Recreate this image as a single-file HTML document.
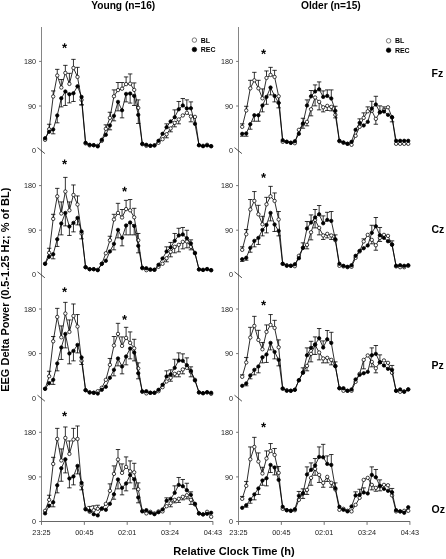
<!DOCTYPE html>
<html lang="en"><head><meta charset="utf-8"><title>EEG Delta Power</title><style>html,body{margin:0;padding:0;background:#fff}body{width:446px;height:559px;overflow:hidden}</style></head><body>
<svg width="446" height="559" viewBox="0 0 446 559" style="display:block">
<rect width="446" height="559" fill="#fff"/>
<g stroke="#757575" stroke-width="1" fill="none">
<path d="M41.5 27V522" stroke="#858585"/>
<path d="M41 521.5H213.1" stroke="#666"/>
<path d="M39.1 106H41.5M39.1 61.4H41.5M39.1 230.2H41.5M39.1 185.6H41.5M39.1 353.6H41.5M39.1 309H41.5M39.1 476.9H41.5M39.1 432.3H41.5M39.1 521.5H41.5M41.5 521.5V524.9M84.35 521.5V524.9M127.2 521.5V524.9M170.05 521.5V524.9M212.9 521.5V524.9"/>
</g>
<g stroke="#222" stroke-width="0.8">
<path d="M37.5 147.6L44.9 153.6"/>
<path d="M37.5 271.8L44.9 277.8"/>
<path d="M37.5 395.2L44.9 401.2"/>
</g>
<g stroke="#757575" stroke-width="1" fill="none">
<path d="M238.5 27V522" stroke="#858585"/>
<path d="M238 521.5H410.1" stroke="#666"/>
<path d="M236.1 106H238.5M236.1 61.4H238.5M236.1 230.2H238.5M236.1 185.6H238.5M236.1 353.6H238.5M236.1 309H238.5M236.1 476.9H238.5M236.1 432.3H238.5M236.1 521.5H238.5M238.5 521.5V524.9M281.35 521.5V524.9M324.2 521.5V524.9M367.05 521.5V524.9M409.9 521.5V524.9"/>
</g>
<g stroke="#222" stroke-width="0.8">
<path d="M234.5 147.6L241.9 153.6"/>
<path d="M234.5 271.8L241.9 277.8"/>
<path d="M234.5 395.2L241.9 401.2"/>
</g>
<polyline points="45.1,139.8 49.15,129.23 53.2,96.49 57.25,75.53 61.3,87.51 65.35,72.94 69.4,83.92 73.45,67.95 77.5,76.93 81.55,99.88 85.6,143.4 89.65,145.39 93.7,145.19 97.75,145.79 101.8,140.8 105.85,128.83 109.9,117.85 113.95,96.29 118,90.1 122.05,88.71 126.1,84.12 130.15,83.72 134.2,89.9 138.25,107.87 142.3,144.2 146.35,145.79 150.4,145.79 154.45,145.39 158.5,142.8 162.55,139.21 166.6,134.22 170.65,128.43 174.7,122.84 178.75,119.45 182.8,115.45 186.85,112.86 190.9,116.45 194.95,116.85 199,145.19 203.05,145.79 207.1,144.79 211.15,146.19" fill="none" stroke="#000" stroke-width="0.82" stroke-linejoin="round"/>
<path d="M49.15 129.23V124.24M46.95 124.24H51.35M53.2 96.49V90.9M51 90.9H55.4M57.25 75.53V69.35M55.05 69.35H59.45M61.3 87.51V79.52M59.1 79.52H63.5M65.35 72.94V65.35M63.15 65.35H67.55M69.4 83.92V73.34M67.2 73.34H71.6M73.45 67.95V59.37M71.25 59.37H75.65M77.5 76.93V67.35M75.3 67.35H79.7M81.55 99.88V104.87M79.35 104.87H83.75M105.85 128.83V124.83M103.65 124.83H108.05M109.9 117.85V112.26M107.7 112.26H112.1M113.95 96.29V89.9M111.75 89.9H116.15M118 90.1V82.52M115.8 82.52H120.2M122.05 88.71V82.52M119.85 82.52H124.25M126.1 84.12V76.93M123.9 76.93H128.3M130.15 83.72V73.94M127.95 73.94H132.35M134.2 89.9V82.92M132 82.92H136.4M138.25 107.87V99.88M136.05 99.88H140.45M166.6 134.22V137.81M164.4 137.81H168.8M170.65 128.43V131.82M168.45 131.82H172.85M174.7 122.84V126.83M172.5 126.83H176.9M178.75 119.45V123.84M176.55 123.84H180.95M190.9 116.45V121.84M188.7 121.84H193.1" stroke="#000" stroke-width="0.8" fill="none"/>
<g fill="#fff" stroke="#000" stroke-width="0.75">
<circle cx="45.1" cy="139.8" r="1.7"/>
<circle cx="49.15" cy="129.23" r="1.7"/>
<circle cx="53.2" cy="96.49" r="1.7"/>
<circle cx="57.25" cy="75.53" r="1.7"/>
<circle cx="61.3" cy="87.51" r="1.7"/>
<circle cx="65.35" cy="72.94" r="1.7"/>
<circle cx="69.4" cy="83.92" r="1.7"/>
<circle cx="73.45" cy="67.95" r="1.7"/>
<circle cx="77.5" cy="76.93" r="1.7"/>
<circle cx="81.55" cy="99.88" r="1.7"/>
<circle cx="85.6" cy="143.4" r="1.7"/>
<circle cx="89.65" cy="145.39" r="1.7"/>
<circle cx="93.7" cy="145.19" r="1.7"/>
<circle cx="97.75" cy="145.79" r="1.7"/>
<circle cx="101.8" cy="140.8" r="1.7"/>
<circle cx="105.85" cy="128.83" r="1.7"/>
<circle cx="109.9" cy="117.85" r="1.7"/>
<circle cx="113.95" cy="96.29" r="1.7"/>
<circle cx="118" cy="90.1" r="1.7"/>
<circle cx="122.05" cy="88.71" r="1.7"/>
<circle cx="126.1" cy="84.12" r="1.7"/>
<circle cx="130.15" cy="83.72" r="1.7"/>
<circle cx="134.2" cy="89.9" r="1.7"/>
<circle cx="138.25" cy="107.87" r="1.7"/>
<circle cx="142.3" cy="144.2" r="1.7"/>
<circle cx="146.35" cy="145.79" r="1.7"/>
<circle cx="150.4" cy="145.79" r="1.7"/>
<circle cx="154.45" cy="145.39" r="1.7"/>
<circle cx="158.5" cy="142.8" r="1.7"/>
<circle cx="162.55" cy="139.21" r="1.7"/>
<circle cx="166.6" cy="134.22" r="1.7"/>
<circle cx="170.65" cy="128.43" r="1.7"/>
<circle cx="174.7" cy="122.84" r="1.7"/>
<circle cx="178.75" cy="119.45" r="1.7"/>
<circle cx="182.8" cy="115.45" r="1.7"/>
<circle cx="186.85" cy="112.86" r="1.7"/>
<circle cx="190.9" cy="116.45" r="1.7"/>
<circle cx="194.95" cy="116.85" r="1.7"/>
<circle cx="199" cy="145.19" r="1.7"/>
<circle cx="203.05" cy="145.79" r="1.7"/>
<circle cx="207.1" cy="144.79" r="1.7"/>
<circle cx="211.15" cy="146.19" r="1.7"/>
</g>
<polyline points="45.1,138.21 49.15,131.82 53.2,129.43 57.25,115.45 61.3,98.29 65.35,91.5 69.4,94.3 73.45,93.3 77.5,86.31 81.55,96.89 85.6,142.8 89.65,144.79 93.7,145.19 97.75,146.39 101.8,139.8 105.85,134.81 109.9,125.43 113.95,115.85 118,101.88 122.05,110.26 126.1,93.9 130.15,93.5 134.2,95.89 138.25,114.85 142.3,143.8 146.35,144.79 150.4,145.79 154.45,145.39 158.5,140.8 162.55,133.82 166.6,127.23 170.65,121.44 174.7,117.25 178.75,109.27 182.8,105.47 186.85,108.47 190.9,108.27 194.95,123.84 199,145.19 203.05,146.19 207.1,145.39 211.15,146.19" fill="none" stroke="#000" stroke-width="0.82" stroke-linejoin="round"/>
<path d="M53.2 129.43V133.82M51 133.82H55.4M57.25 115.45V122.84M55.05 122.84H59.45M61.3 98.29V106.87M59.1 106.87H63.5M65.35 91.5V105.47M63.15 105.47H67.55M69.4 94.3V102.88M67.2 102.88H71.6M73.45 93.3V101.48M71.25 101.48H75.65M81.55 96.89V104.87M79.35 104.87H83.75M109.9 125.43V129.82M107.7 129.82H112.1M113.95 115.85V120.84M111.75 120.84H116.15M118 101.88V110.86M115.8 110.86H120.2M122.05 110.26V117.85M119.85 117.85H124.25M126.1 93.9V101.88M123.9 101.88H128.3M130.15 93.5V103.08M127.95 103.08H132.35M134.2 95.89V105.47M132 105.47H136.4M138.25 114.85V123.44M136.05 123.44H140.45M166.6 127.23V123.84M164.4 123.84H168.8M174.7 117.25V109.86M172.5 109.86H176.9M178.75 109.27V101.48M176.55 101.48H180.95M182.8 105.47V98.49M180.6 98.49H185M186.85 108.47V99.88M184.65 99.88H189.05M190.9 108.27V101.88M188.7 101.88H193.1" stroke="#000" stroke-width="0.8" fill="none"/>
<g fill="#000" stroke="#000" stroke-width="0.75">
<circle cx="45.1" cy="138.21" r="1.7"/>
<circle cx="49.15" cy="131.82" r="1.7"/>
<circle cx="53.2" cy="129.43" r="1.7"/>
<circle cx="57.25" cy="115.45" r="1.7"/>
<circle cx="61.3" cy="98.29" r="1.7"/>
<circle cx="65.35" cy="91.5" r="1.7"/>
<circle cx="69.4" cy="94.3" r="1.7"/>
<circle cx="73.45" cy="93.3" r="1.7"/>
<circle cx="77.5" cy="86.31" r="1.7"/>
<circle cx="81.55" cy="96.89" r="1.7"/>
<circle cx="85.6" cy="142.8" r="1.7"/>
<circle cx="89.65" cy="144.79" r="1.7"/>
<circle cx="93.7" cy="145.19" r="1.7"/>
<circle cx="97.75" cy="146.39" r="1.7"/>
<circle cx="101.8" cy="139.8" r="1.7"/>
<circle cx="105.85" cy="134.81" r="1.7"/>
<circle cx="109.9" cy="125.43" r="1.7"/>
<circle cx="113.95" cy="115.85" r="1.7"/>
<circle cx="118" cy="101.88" r="1.7"/>
<circle cx="122.05" cy="110.26" r="1.7"/>
<circle cx="126.1" cy="93.9" r="1.7"/>
<circle cx="130.15" cy="93.5" r="1.7"/>
<circle cx="134.2" cy="95.89" r="1.7"/>
<circle cx="138.25" cy="114.85" r="1.7"/>
<circle cx="142.3" cy="143.8" r="1.7"/>
<circle cx="146.35" cy="144.79" r="1.7"/>
<circle cx="150.4" cy="145.79" r="1.7"/>
<circle cx="154.45" cy="145.39" r="1.7"/>
<circle cx="158.5" cy="140.8" r="1.7"/>
<circle cx="162.55" cy="133.82" r="1.7"/>
<circle cx="166.6" cy="127.23" r="1.7"/>
<circle cx="170.65" cy="121.44" r="1.7"/>
<circle cx="174.7" cy="117.25" r="1.7"/>
<circle cx="178.75" cy="109.27" r="1.7"/>
<circle cx="182.8" cy="105.47" r="1.7"/>
<circle cx="186.85" cy="108.47" r="1.7"/>
<circle cx="190.9" cy="108.27" r="1.7"/>
<circle cx="194.95" cy="123.84" r="1.7"/>
<circle cx="199" cy="145.19" r="1.7"/>
<circle cx="203.05" cy="146.19" r="1.7"/>
<circle cx="207.1" cy="145.39" r="1.7"/>
<circle cx="211.15" cy="146.19" r="1.7"/>
</g>
<polyline points="45.1,263.8 49.15,252.83 53.2,218.89 57.25,196.34 61.3,213.5 65.35,191.55 69.4,210.31 73.45,194.94 77.5,204.52 81.55,233.47 85.6,267.2 89.65,269.19 93.7,269.19 97.75,269.79 101.8,263.8 105.85,253.23 109.9,240.25 113.95,219.49 118,212.91 122.05,217.5 126.1,209.11 130.15,210.31 134.2,217.3 138.25,240.25 142.3,268.2 146.35,270.19 150.4,269.79 154.45,269.79 158.5,266.8 162.55,263.8 166.6,258.22 170.65,251.83 174.7,246.84 178.75,244.84 182.8,241.85 186.85,241.45 190.9,246.84 194.95,252.83 199,269.39 203.05,269.79 207.1,268.99 211.15,270.19" fill="none" stroke="#000" stroke-width="0.82" stroke-linejoin="round"/>
<path d="M49.15 252.83V248.24M46.95 248.24H51.35M53.2 218.89V214.3M51 214.3H55.4M57.25 196.34V188.36M55.05 188.36H59.45M61.3 213.5V201.93M59.1 201.93H63.5M65.35 191.55V177.38M63.15 177.38H67.55M69.4 210.31V201.93M67.2 201.93H71.6M73.45 194.94V184.96M71.25 184.96H75.65M77.5 204.52V195.94M75.3 195.94H79.7M81.55 233.47V238.85M79.35 238.85H83.75M109.9 240.25V236.26M107.7 236.26H112.1M113.95 219.49V214.3M111.75 214.3H116.15M118 212.91V203.33M115.8 203.33H120.2M122.05 217.5V209.51M119.85 209.51H124.25M126.1 209.11V200.33M123.9 200.33H128.3M130.15 210.31V199.53M127.95 199.53H132.35M134.2 217.3V208.32M132 208.32H136.4M138.25 240.25V233.47M136.05 233.47H140.45M166.6 258.22V261.81M164.4 261.81H168.8M170.65 251.83V256.82M168.45 256.82H172.85M174.7 246.84V252.83M172.5 252.83H176.9M178.75 244.84V251.83M176.55 251.83H180.95M182.8 241.85V248.83M180.6 248.83H185M186.85 241.45V247.84M184.65 247.84H189.05M190.9 246.84V249.83M188.7 249.83H193.1" stroke="#000" stroke-width="0.8" fill="none"/>
<g fill="#fff" stroke="#000" stroke-width="0.75">
<circle cx="45.1" cy="263.8" r="1.7"/>
<circle cx="49.15" cy="252.83" r="1.7"/>
<circle cx="53.2" cy="218.89" r="1.7"/>
<circle cx="57.25" cy="196.34" r="1.7"/>
<circle cx="61.3" cy="213.5" r="1.7"/>
<circle cx="65.35" cy="191.55" r="1.7"/>
<circle cx="69.4" cy="210.31" r="1.7"/>
<circle cx="73.45" cy="194.94" r="1.7"/>
<circle cx="77.5" cy="204.52" r="1.7"/>
<circle cx="81.55" cy="233.47" r="1.7"/>
<circle cx="85.6" cy="267.2" r="1.7"/>
<circle cx="89.65" cy="269.19" r="1.7"/>
<circle cx="93.7" cy="269.19" r="1.7"/>
<circle cx="97.75" cy="269.79" r="1.7"/>
<circle cx="101.8" cy="263.8" r="1.7"/>
<circle cx="105.85" cy="253.23" r="1.7"/>
<circle cx="109.9" cy="240.25" r="1.7"/>
<circle cx="113.95" cy="219.49" r="1.7"/>
<circle cx="118" cy="212.91" r="1.7"/>
<circle cx="122.05" cy="217.5" r="1.7"/>
<circle cx="126.1" cy="209.11" r="1.7"/>
<circle cx="130.15" cy="210.31" r="1.7"/>
<circle cx="134.2" cy="217.3" r="1.7"/>
<circle cx="138.25" cy="240.25" r="1.7"/>
<circle cx="142.3" cy="268.2" r="1.7"/>
<circle cx="146.35" cy="270.19" r="1.7"/>
<circle cx="150.4" cy="269.79" r="1.7"/>
<circle cx="154.45" cy="269.79" r="1.7"/>
<circle cx="158.5" cy="266.8" r="1.7"/>
<circle cx="162.55" cy="263.8" r="1.7"/>
<circle cx="166.6" cy="258.22" r="1.7"/>
<circle cx="170.65" cy="251.83" r="1.7"/>
<circle cx="174.7" cy="246.84" r="1.7"/>
<circle cx="178.75" cy="244.84" r="1.7"/>
<circle cx="182.8" cy="241.85" r="1.7"/>
<circle cx="186.85" cy="241.45" r="1.7"/>
<circle cx="190.9" cy="246.84" r="1.7"/>
<circle cx="194.95" cy="252.83" r="1.7"/>
<circle cx="199" cy="269.39" r="1.7"/>
<circle cx="203.05" cy="269.79" r="1.7"/>
<circle cx="207.1" cy="268.99" r="1.7"/>
<circle cx="211.15" cy="270.19" r="1.7"/>
</g>
<polyline points="45.1,263.8 49.15,256.82 53.2,254.22 57.25,239.25 61.3,223.49 65.35,212.91 69.4,226.48 73.45,222.89 77.5,217.9 81.55,231.47 85.6,267.2 89.65,269.19 93.7,269.19 97.75,270.19 101.8,263.8 105.85,260.81 109.9,251.43 113.95,243.84 118,229.87 122.05,237.86 126.1,225.48 130.15,222.49 134.2,225.88 138.25,245.84 142.3,267.8 146.35,268.2 150.4,269.39 154.45,269.79 158.5,264.8 162.55,258.42 166.6,251.43 170.65,247.44 174.7,240.85 178.75,235.46 182.8,234.46 186.85,238.26 190.9,243.45 194.95,253.23 199,269.39 203.05,269.99 207.1,269.19 211.15,270.19" fill="none" stroke="#000" stroke-width="0.82" stroke-linejoin="round"/>
<path d="M53.2 254.22V258.81M51 258.81H55.4M57.25 239.25V246.44M55.05 246.44H59.45M61.3 223.49V234.86M59.1 234.86H63.5M65.35 212.91V225.88M63.15 225.88H67.55M69.4 226.48V235.46M67.2 235.46H71.6M73.45 222.89V231.87M71.25 231.87H75.65M77.5 217.9V224.88M75.3 224.88H79.7M113.95 243.84V249.83M111.75 249.83H116.15M118 229.87V237.86M115.8 237.86H120.2M122.05 237.86V245.84M119.85 245.84H124.25M126.1 225.48V234.86M123.9 234.86H128.3M130.15 222.49V234.86M127.95 234.86H132.35M134.2 225.88V234.86M132 234.86H136.4M138.25 245.84V252.83M136.05 252.83H140.45M166.6 251.43V246.84M164.4 246.84H168.8M170.65 247.44V242.45M168.45 242.45H172.85M174.7 240.85V233.47M172.5 233.47H176.9M178.75 235.46V228.28M176.55 228.28H180.95M182.8 234.46V227.48M180.6 227.48H185M186.85 238.26V230.27M184.65 230.27H189.05M190.9 243.45V239.85M188.7 239.85H193.1" stroke="#000" stroke-width="0.8" fill="none"/>
<g fill="#000" stroke="#000" stroke-width="0.75">
<circle cx="45.1" cy="263.8" r="1.7"/>
<circle cx="49.15" cy="256.82" r="1.7"/>
<circle cx="53.2" cy="254.22" r="1.7"/>
<circle cx="57.25" cy="239.25" r="1.7"/>
<circle cx="61.3" cy="223.49" r="1.7"/>
<circle cx="65.35" cy="212.91" r="1.7"/>
<circle cx="69.4" cy="226.48" r="1.7"/>
<circle cx="73.45" cy="222.89" r="1.7"/>
<circle cx="77.5" cy="217.9" r="1.7"/>
<circle cx="81.55" cy="231.47" r="1.7"/>
<circle cx="85.6" cy="267.2" r="1.7"/>
<circle cx="89.65" cy="269.19" r="1.7"/>
<circle cx="93.7" cy="269.19" r="1.7"/>
<circle cx="97.75" cy="270.19" r="1.7"/>
<circle cx="101.8" cy="263.8" r="1.7"/>
<circle cx="105.85" cy="260.81" r="1.7"/>
<circle cx="109.9" cy="251.43" r="1.7"/>
<circle cx="113.95" cy="243.84" r="1.7"/>
<circle cx="118" cy="229.87" r="1.7"/>
<circle cx="122.05" cy="237.86" r="1.7"/>
<circle cx="126.1" cy="225.48" r="1.7"/>
<circle cx="130.15" cy="222.49" r="1.7"/>
<circle cx="134.2" cy="225.88" r="1.7"/>
<circle cx="138.25" cy="245.84" r="1.7"/>
<circle cx="142.3" cy="267.8" r="1.7"/>
<circle cx="146.35" cy="268.2" r="1.7"/>
<circle cx="150.4" cy="269.39" r="1.7"/>
<circle cx="154.45" cy="269.79" r="1.7"/>
<circle cx="158.5" cy="264.8" r="1.7"/>
<circle cx="162.55" cy="258.42" r="1.7"/>
<circle cx="166.6" cy="251.43" r="1.7"/>
<circle cx="170.65" cy="247.44" r="1.7"/>
<circle cx="174.7" cy="240.85" r="1.7"/>
<circle cx="178.75" cy="235.46" r="1.7"/>
<circle cx="182.8" cy="234.46" r="1.7"/>
<circle cx="186.85" cy="238.26" r="1.7"/>
<circle cx="190.9" cy="243.45" r="1.7"/>
<circle cx="194.95" cy="253.23" r="1.7"/>
<circle cx="199" cy="269.39" r="1.7"/>
<circle cx="203.05" cy="269.99" r="1.7"/>
<circle cx="207.1" cy="269.19" r="1.7"/>
<circle cx="211.15" cy="270.19" r="1.7"/>
</g>
<polyline points="45.1,388.8 49.15,376.23 53.2,341.3 57.25,316.94 61.3,337.3 65.35,313.55 69.4,331.91 73.45,315.95 77.5,326.52 81.55,360.86 85.6,390.2 89.65,392.39 93.7,392.79 97.75,391.2 101.8,387.8 105.85,379.82 109.9,364.85 113.95,345.49 118,333.91 122.05,345.89 126.1,337.9 130.15,342.89 134.2,348.28 138.25,368.44 142.3,391.79 146.35,393.39 150.4,392.79 154.45,392.79 158.5,391.2 162.55,387.2 166.6,381.42 170.65,377.82 174.7,373.83 178.75,372.83 182.8,369.44 186.85,367.84 190.9,371.83 194.95,379.82 199,392.39 203.05,393.19 207.1,392.39 211.15,393.79" fill="none" stroke="#000" stroke-width="0.82" stroke-linejoin="round"/>
<path d="M49.15 376.23V371.24M46.95 371.24H51.35M53.2 341.3V336.5M51 336.5H55.4M57.25 316.94V308.36M55.05 308.36H59.45M61.3 337.3V325.93M59.1 325.93H63.5M65.35 313.55V302.37M63.15 302.37H67.55M69.4 331.91V319.94M67.2 319.94H71.6M73.45 315.95V303.97M71.25 303.97H75.65M77.5 326.52V314.55M75.3 314.55H79.7M81.55 360.86V364.45M79.35 364.45H83.75M109.9 364.85V358.46M107.7 358.46H112.1M113.95 345.49V336.5M111.75 336.5H116.15M118 333.91V323.33M115.8 323.33H120.2M122.05 345.89V336.9M119.85 336.9H124.25M126.1 337.9V327.32M123.9 327.32H128.3M130.15 342.89V331.91M127.95 331.91H132.35M134.2 348.28V339.3M132 339.3H136.4M138.25 368.44V362.85M136.05 362.85H140.45M170.65 377.82V381.22M168.45 381.22H172.85M174.7 373.83V376.82M172.5 376.82H176.9M178.75 372.83V376.82M176.55 376.82H180.95M182.8 369.44V373.83M180.6 373.83H185M190.9 371.83V376.82M188.7 376.82H193.1" stroke="#000" stroke-width="0.8" fill="none"/>
<g fill="#fff" stroke="#000" stroke-width="0.75">
<circle cx="45.1" cy="388.8" r="1.7"/>
<circle cx="49.15" cy="376.23" r="1.7"/>
<circle cx="53.2" cy="341.3" r="1.7"/>
<circle cx="57.25" cy="316.94" r="1.7"/>
<circle cx="61.3" cy="337.3" r="1.7"/>
<circle cx="65.35" cy="313.55" r="1.7"/>
<circle cx="69.4" cy="331.91" r="1.7"/>
<circle cx="73.45" cy="315.95" r="1.7"/>
<circle cx="77.5" cy="326.52" r="1.7"/>
<circle cx="81.55" cy="360.86" r="1.7"/>
<circle cx="85.6" cy="390.2" r="1.7"/>
<circle cx="89.65" cy="392.39" r="1.7"/>
<circle cx="93.7" cy="392.79" r="1.7"/>
<circle cx="97.75" cy="391.2" r="1.7"/>
<circle cx="101.8" cy="387.8" r="1.7"/>
<circle cx="105.85" cy="379.82" r="1.7"/>
<circle cx="109.9" cy="364.85" r="1.7"/>
<circle cx="113.95" cy="345.49" r="1.7"/>
<circle cx="118" cy="333.91" r="1.7"/>
<circle cx="122.05" cy="345.89" r="1.7"/>
<circle cx="126.1" cy="337.9" r="1.7"/>
<circle cx="130.15" cy="342.89" r="1.7"/>
<circle cx="134.2" cy="348.28" r="1.7"/>
<circle cx="138.25" cy="368.44" r="1.7"/>
<circle cx="142.3" cy="391.79" r="1.7"/>
<circle cx="146.35" cy="393.39" r="1.7"/>
<circle cx="150.4" cy="392.79" r="1.7"/>
<circle cx="154.45" cy="392.79" r="1.7"/>
<circle cx="158.5" cy="391.2" r="1.7"/>
<circle cx="162.55" cy="387.2" r="1.7"/>
<circle cx="166.6" cy="381.42" r="1.7"/>
<circle cx="170.65" cy="377.82" r="1.7"/>
<circle cx="174.7" cy="373.83" r="1.7"/>
<circle cx="178.75" cy="372.83" r="1.7"/>
<circle cx="182.8" cy="369.44" r="1.7"/>
<circle cx="186.85" cy="367.84" r="1.7"/>
<circle cx="190.9" cy="371.83" r="1.7"/>
<circle cx="194.95" cy="379.82" r="1.7"/>
<circle cx="199" cy="392.39" r="1.7"/>
<circle cx="203.05" cy="393.19" r="1.7"/>
<circle cx="207.1" cy="392.39" r="1.7"/>
<circle cx="211.15" cy="393.79" r="1.7"/>
</g>
<polyline points="45.1,388.8 49.15,383.21 53.2,379.82 57.25,363.45 61.3,347.48 65.35,333.91 69.4,353.47 73.45,350.88 77.5,344.89 81.55,357.46 85.6,390.2 89.65,392.39 93.7,392.79 97.75,393.59 101.8,389.8 105.85,386.8 109.9,377.82 113.95,369.84 118,358.46 122.05,366.45 126.1,356.47 130.15,348.48 134.2,352.47 138.25,373.23 142.3,391.4 146.35,391.2 150.4,392.79 154.45,392.79 158.5,389.8 162.55,384.81 166.6,376.43 170.65,374.43 174.7,367.84 178.75,360.46 182.8,360.86 186.85,365.25 190.9,370.84 194.95,380.42 199,392.39 203.05,393.19 207.1,392.19 211.15,392.79" fill="none" stroke="#000" stroke-width="0.82" stroke-linejoin="round"/>
<path d="M53.2 379.82V384.41M51 384.41H55.4M57.25 363.45V370.84M55.05 370.84H59.45M61.3 347.48V359.46M59.1 359.46H63.5M65.35 333.91V347.88M63.15 347.88H67.55M69.4 353.47V363.85M67.2 363.85H71.6M73.45 350.88V360.86M71.25 360.86H75.65M77.5 344.89V352.87M75.3 352.87H79.7M113.95 369.84V375.83M111.75 375.83H116.15M118 358.46V365.85M115.8 365.85H120.2M122.05 366.45V373.83M119.85 373.83H124.25M126.1 356.47V364.85M123.9 364.85H128.3M130.15 348.48V358.86M127.95 358.86H132.35M134.2 352.47V360.86M132 360.86H136.4M138.25 373.23V378.82M136.05 378.82H140.45M166.6 376.43V370.84M164.4 370.84H168.8M170.65 374.43V369.84M168.45 369.84H172.85M174.7 367.84V359.26M172.5 359.26H176.9M178.75 360.46V352.87M176.55 352.87H180.95M182.8 360.86V353.87M180.6 353.87H185M186.85 365.25V357.86M184.65 357.86H189.05M190.9 370.84V366.84M188.7 366.84H193.1" stroke="#000" stroke-width="0.8" fill="none"/>
<g fill="#000" stroke="#000" stroke-width="0.75">
<circle cx="45.1" cy="388.8" r="1.7"/>
<circle cx="49.15" cy="383.21" r="1.7"/>
<circle cx="53.2" cy="379.82" r="1.7"/>
<circle cx="57.25" cy="363.45" r="1.7"/>
<circle cx="61.3" cy="347.48" r="1.7"/>
<circle cx="65.35" cy="333.91" r="1.7"/>
<circle cx="69.4" cy="353.47" r="1.7"/>
<circle cx="73.45" cy="350.88" r="1.7"/>
<circle cx="77.5" cy="344.89" r="1.7"/>
<circle cx="81.55" cy="357.46" r="1.7"/>
<circle cx="85.6" cy="390.2" r="1.7"/>
<circle cx="89.65" cy="392.39" r="1.7"/>
<circle cx="93.7" cy="392.79" r="1.7"/>
<circle cx="97.75" cy="393.59" r="1.7"/>
<circle cx="101.8" cy="389.8" r="1.7"/>
<circle cx="105.85" cy="386.8" r="1.7"/>
<circle cx="109.9" cy="377.82" r="1.7"/>
<circle cx="113.95" cy="369.84" r="1.7"/>
<circle cx="118" cy="358.46" r="1.7"/>
<circle cx="122.05" cy="366.45" r="1.7"/>
<circle cx="126.1" cy="356.47" r="1.7"/>
<circle cx="130.15" cy="348.48" r="1.7"/>
<circle cx="134.2" cy="352.47" r="1.7"/>
<circle cx="138.25" cy="373.23" r="1.7"/>
<circle cx="142.3" cy="391.4" r="1.7"/>
<circle cx="146.35" cy="391.2" r="1.7"/>
<circle cx="150.4" cy="392.79" r="1.7"/>
<circle cx="154.45" cy="392.79" r="1.7"/>
<circle cx="158.5" cy="389.8" r="1.7"/>
<circle cx="162.55" cy="384.81" r="1.7"/>
<circle cx="166.6" cy="376.43" r="1.7"/>
<circle cx="170.65" cy="374.43" r="1.7"/>
<circle cx="174.7" cy="367.84" r="1.7"/>
<circle cx="178.75" cy="360.46" r="1.7"/>
<circle cx="182.8" cy="360.86" r="1.7"/>
<circle cx="186.85" cy="365.25" r="1.7"/>
<circle cx="190.9" cy="370.84" r="1.7"/>
<circle cx="194.95" cy="380.42" r="1.7"/>
<circle cx="199" cy="392.39" r="1.7"/>
<circle cx="203.05" cy="393.19" r="1.7"/>
<circle cx="207.1" cy="392.19" r="1.7"/>
<circle cx="211.15" cy="392.79" r="1.7"/>
</g>
<polyline points="45.1,510.8 49.15,499.83 53.2,463.9 57.25,438.95 61.3,460.5 65.35,437.95 69.4,453.92 73.45,439.55 77.5,438.95 81.55,485.26 85.6,508.81 89.65,511.8 93.7,510.21 97.75,508.81 101.8,508.81 105.85,503.82 109.9,490.84 113.95,473.88 118,459.51 122.05,472.88 126.1,466.89 130.15,471.28 134.2,472.28 138.25,489.25 142.3,510.8 146.35,513.4 150.4,511.8 154.45,513.4 158.5,511.4 162.55,511.4 166.6,506.21 170.65,503.22 174.7,499.83 178.75,498.83 182.8,496.83 186.85,495.24 190.9,499.83 194.95,504.42 199,513.4 203.05,514.4 207.1,511.8 211.15,516.79" fill="none" stroke="#000" stroke-width="0.82" stroke-linejoin="round"/>
<path d="M49.15 499.83V495.24M46.95 495.24H51.35M53.2 463.9V457.31M51 457.31H55.4M57.25 438.95V428.37M55.05 428.37H59.45M61.3 460.5V448.93M59.1 448.93H63.5M65.35 437.95V426.97M63.15 426.97H67.55M69.4 453.92V440.94M67.2 440.94H71.6M73.45 439.55V428.37M71.25 428.37H75.65M77.5 438.95V425.97M75.3 425.97H79.7M81.55 485.26V489.85M79.35 489.85H83.75M89.65 511.8V506.41M87.45 506.41H91.85M93.7 510.21V505.81M91.5 505.81H95.9M97.75 508.81V505.22M95.55 505.22H99.95M109.9 490.84V483.86M107.7 483.86H112.1M113.95 473.88V465.89M111.75 465.89H116.15M118 459.51V449.53M115.8 449.53H120.2M122.05 472.88V463.9M119.85 463.9H124.25M126.1 466.89V456.91M123.9 456.91H128.3M130.15 471.28V460.9M127.95 460.9H132.35M134.2 472.28V463.3M132 463.3H136.4M138.25 489.25V482.86M136.05 482.86H140.45M170.65 503.22V506.81M168.45 506.81H172.85M174.7 499.83V502.82M172.5 502.82H176.9M178.75 498.83V502.42M176.55 502.42H180.95M182.8 496.83V499.83M180.6 499.83H185M186.85 495.24V498.83M184.65 498.83H189.05M190.9 499.83V504.42M188.7 504.42H193.1" stroke="#000" stroke-width="0.8" fill="none"/>
<g fill="#fff" stroke="#000" stroke-width="0.75">
<circle cx="45.1" cy="510.8" r="1.7"/>
<circle cx="49.15" cy="499.83" r="1.7"/>
<circle cx="53.2" cy="463.9" r="1.7"/>
<circle cx="57.25" cy="438.95" r="1.7"/>
<circle cx="61.3" cy="460.5" r="1.7"/>
<circle cx="65.35" cy="437.95" r="1.7"/>
<circle cx="69.4" cy="453.92" r="1.7"/>
<circle cx="73.45" cy="439.55" r="1.7"/>
<circle cx="77.5" cy="438.95" r="1.7"/>
<circle cx="81.55" cy="485.26" r="1.7"/>
<circle cx="85.6" cy="508.81" r="1.7"/>
<circle cx="89.65" cy="511.8" r="1.7"/>
<circle cx="93.7" cy="510.21" r="1.7"/>
<circle cx="97.75" cy="508.81" r="1.7"/>
<circle cx="101.8" cy="508.81" r="1.7"/>
<circle cx="105.85" cy="503.82" r="1.7"/>
<circle cx="109.9" cy="490.84" r="1.7"/>
<circle cx="113.95" cy="473.88" r="1.7"/>
<circle cx="118" cy="459.51" r="1.7"/>
<circle cx="122.05" cy="472.88" r="1.7"/>
<circle cx="126.1" cy="466.89" r="1.7"/>
<circle cx="130.15" cy="471.28" r="1.7"/>
<circle cx="134.2" cy="472.28" r="1.7"/>
<circle cx="138.25" cy="489.25" r="1.7"/>
<circle cx="142.3" cy="510.8" r="1.7"/>
<circle cx="146.35" cy="513.4" r="1.7"/>
<circle cx="150.4" cy="511.8" r="1.7"/>
<circle cx="154.45" cy="513.4" r="1.7"/>
<circle cx="158.5" cy="511.4" r="1.7"/>
<circle cx="162.55" cy="511.4" r="1.7"/>
<circle cx="166.6" cy="506.21" r="1.7"/>
<circle cx="170.65" cy="503.22" r="1.7"/>
<circle cx="174.7" cy="499.83" r="1.7"/>
<circle cx="178.75" cy="498.83" r="1.7"/>
<circle cx="182.8" cy="496.83" r="1.7"/>
<circle cx="186.85" cy="495.24" r="1.7"/>
<circle cx="190.9" cy="499.83" r="1.7"/>
<circle cx="194.95" cy="504.42" r="1.7"/>
<circle cx="199" cy="513.4" r="1.7"/>
<circle cx="203.05" cy="514.4" r="1.7"/>
<circle cx="207.1" cy="511.8" r="1.7"/>
<circle cx="211.15" cy="516.79" r="1.7"/>
</g>
<polyline points="45.1,513.4 49.15,505.81 53.2,502.22 57.25,485.26 61.3,468.29 65.35,459.31 69.4,478.47 73.45,476.47 77.5,465.89 81.55,482.86 85.6,509.41 89.65,510.8 93.7,514.2 97.75,515.4 101.8,508.41 105.85,509.81 109.9,503.82 113.95,494.24 118,479.47 122.05,487.85 126.1,483.46 130.15,474.88 134.2,479.27 138.25,497.43 142.3,511.4 146.35,510.21 150.4,512.8 154.45,514.2 158.5,512.2 162.55,509.41 166.6,500.82 170.65,498.83 174.7,492.84 178.75,484.86 182.8,486.25 186.85,490.25 190.9,494.84 194.95,503.82 199,513.4 203.05,514.4 207.1,513.8 211.15,512.8" fill="none" stroke="#000" stroke-width="0.82" stroke-linejoin="round"/>
<path d="M53.2 502.22V506.81M51 506.81H55.4M57.25 485.26V492.84M55.05 492.84H59.45M61.3 468.29V481.26M59.1 481.26H63.5M65.35 459.31V472.88M63.15 472.88H67.55M69.4 478.47V487.85M67.2 487.85H71.6M73.45 476.47V484.86M71.25 484.86H75.65M77.5 465.89V473.88M75.3 473.88H79.7M113.95 494.24V499.23M111.75 499.23H116.15M118 479.47V488.85M115.8 488.85H120.2M122.05 487.85V494.84M119.85 494.84H124.25M126.1 483.46V490.84M123.9 490.84H128.3M130.15 474.88V482.86M127.95 482.86H132.35M134.2 479.27V488.85M132 488.85H136.4M138.25 497.43V502.82M136.05 502.82H140.45M166.6 500.82V497.83M164.4 497.83H168.8M174.7 492.84V485.85M172.5 485.85H176.9M178.75 484.86V477.47M176.55 477.47H180.95M182.8 486.25V479.47M180.6 479.47H185M186.85 490.25V483.26M184.65 483.26H189.05M190.9 494.84V491.84M188.7 491.84H193.1" stroke="#000" stroke-width="0.8" fill="none"/>
<g fill="#000" stroke="#000" stroke-width="0.75">
<circle cx="45.1" cy="513.4" r="1.7"/>
<circle cx="49.15" cy="505.81" r="1.7"/>
<circle cx="53.2" cy="502.22" r="1.7"/>
<circle cx="57.25" cy="485.26" r="1.7"/>
<circle cx="61.3" cy="468.29" r="1.7"/>
<circle cx="65.35" cy="459.31" r="1.7"/>
<circle cx="69.4" cy="478.47" r="1.7"/>
<circle cx="73.45" cy="476.47" r="1.7"/>
<circle cx="77.5" cy="465.89" r="1.7"/>
<circle cx="81.55" cy="482.86" r="1.7"/>
<circle cx="85.6" cy="509.41" r="1.7"/>
<circle cx="89.65" cy="510.8" r="1.7"/>
<circle cx="93.7" cy="514.2" r="1.7"/>
<circle cx="97.75" cy="515.4" r="1.7"/>
<circle cx="101.8" cy="508.41" r="1.7"/>
<circle cx="105.85" cy="509.81" r="1.7"/>
<circle cx="109.9" cy="503.82" r="1.7"/>
<circle cx="113.95" cy="494.24" r="1.7"/>
<circle cx="118" cy="479.47" r="1.7"/>
<circle cx="122.05" cy="487.85" r="1.7"/>
<circle cx="126.1" cy="483.46" r="1.7"/>
<circle cx="130.15" cy="474.88" r="1.7"/>
<circle cx="134.2" cy="479.27" r="1.7"/>
<circle cx="138.25" cy="497.43" r="1.7"/>
<circle cx="142.3" cy="511.4" r="1.7"/>
<circle cx="146.35" cy="510.21" r="1.7"/>
<circle cx="150.4" cy="512.8" r="1.7"/>
<circle cx="154.45" cy="514.2" r="1.7"/>
<circle cx="158.5" cy="512.2" r="1.7"/>
<circle cx="162.55" cy="509.41" r="1.7"/>
<circle cx="166.6" cy="500.82" r="1.7"/>
<circle cx="170.65" cy="498.83" r="1.7"/>
<circle cx="174.7" cy="492.84" r="1.7"/>
<circle cx="178.75" cy="484.86" r="1.7"/>
<circle cx="182.8" cy="486.25" r="1.7"/>
<circle cx="186.85" cy="490.25" r="1.7"/>
<circle cx="190.9" cy="494.84" r="1.7"/>
<circle cx="194.95" cy="503.82" r="1.7"/>
<circle cx="199" cy="513.4" r="1.7"/>
<circle cx="203.05" cy="514.4" r="1.7"/>
<circle cx="207.1" cy="513.8" r="1.7"/>
<circle cx="211.15" cy="512.8" r="1.7"/>
</g>
<polyline points="242.2,126.83 246.25,110.46 250.3,88.31 254.35,80.32 258.4,88.31 262.45,98.29 266.5,77.93 270.55,74.93 274.6,76.93 278.65,96.29 282.7,141.8 286.75,141.8 290.8,142.8 294.85,143.2 298.9,129.82 302.95,124.24 307,121.84 311.05,109.27 315.1,97.49 319.15,101.88 323.2,107.27 327.25,105.87 331.3,106.87 335.35,114.85 339.4,141.2 343.45,142.8 347.5,143.8 351.55,144.79 355.6,135.81 359.65,126.83 363.7,117.85 367.75,111.26 371.8,110.86 375.85,118.85 379.9,112.26 383.95,109.86 388,107.27 392.05,117.25 396.1,143.8 400.15,143.8 404.2,143.8 408.25,143.8" fill="none" stroke="#000" stroke-width="0.82" stroke-linejoin="round"/>
<path d="M242.2 126.83V123.84M240 123.84H244.4M246.25 110.46V106.27M244.05 106.27H248.45M250.3 88.31V80.32M248.1 80.32H252.5M254.35 80.32V72.34M252.15 72.34H256.55M258.4 88.31V80.32M256.2 80.32H260.6M262.45 98.29V88.91M260.25 88.91H264.65M266.5 77.93V70.94M264.3 70.94H268.7M270.55 74.93V67.35M268.35 67.35H272.75M274.6 76.93V70.34M272.4 70.34H276.8M278.65 96.29V102.88M276.45 102.88H280.85M302.95 124.24V128.23M300.75 128.23H305.15M307 121.84V125.83M304.8 125.83H309.2M311.05 109.27V115.85M308.85 115.85H313.25M315.1 97.49V105.87M312.9 105.87H317.3M319.15 101.88V109.86M316.95 109.86H321.35M323.2 107.27V111.86M321 111.86H325.4M327.25 105.87V110.46M325.05 110.46H329.45M331.3 106.87V110.86M329.1 110.86H333.5M335.35 114.85V117.85M333.15 117.85H337.55M359.65 126.83V118.85M357.45 118.85H361.85M363.7 117.85V112.86M361.5 112.86H365.9M367.75 111.26V106.87M365.55 106.87H369.95M375.85 118.85V124.24M373.65 124.24H378.05M383.95 109.86V106.87M381.75 106.87H386.15" stroke="#000" stroke-width="0.8" fill="none"/>
<g fill="#fff" stroke="#000" stroke-width="0.75">
<circle cx="242.2" cy="126.83" r="1.7"/>
<circle cx="246.25" cy="110.46" r="1.7"/>
<circle cx="250.3" cy="88.31" r="1.7"/>
<circle cx="254.35" cy="80.32" r="1.7"/>
<circle cx="258.4" cy="88.31" r="1.7"/>
<circle cx="262.45" cy="98.29" r="1.7"/>
<circle cx="266.5" cy="77.93" r="1.7"/>
<circle cx="270.55" cy="74.93" r="1.7"/>
<circle cx="274.6" cy="76.93" r="1.7"/>
<circle cx="278.65" cy="96.29" r="1.7"/>
<circle cx="282.7" cy="141.8" r="1.7"/>
<circle cx="286.75" cy="141.8" r="1.7"/>
<circle cx="290.8" cy="142.8" r="1.7"/>
<circle cx="294.85" cy="143.2" r="1.7"/>
<circle cx="298.9" cy="129.82" r="1.7"/>
<circle cx="302.95" cy="124.24" r="1.7"/>
<circle cx="307" cy="121.84" r="1.7"/>
<circle cx="311.05" cy="109.27" r="1.7"/>
<circle cx="315.1" cy="97.49" r="1.7"/>
<circle cx="319.15" cy="101.88" r="1.7"/>
<circle cx="323.2" cy="107.27" r="1.7"/>
<circle cx="327.25" cy="105.87" r="1.7"/>
<circle cx="331.3" cy="106.87" r="1.7"/>
<circle cx="335.35" cy="114.85" r="1.7"/>
<circle cx="339.4" cy="141.2" r="1.7"/>
<circle cx="343.45" cy="142.8" r="1.7"/>
<circle cx="347.5" cy="143.8" r="1.7"/>
<circle cx="351.55" cy="144.79" r="1.7"/>
<circle cx="355.6" cy="135.81" r="1.7"/>
<circle cx="359.65" cy="126.83" r="1.7"/>
<circle cx="363.7" cy="117.85" r="1.7"/>
<circle cx="367.75" cy="111.26" r="1.7"/>
<circle cx="371.8" cy="110.86" r="1.7"/>
<circle cx="375.85" cy="118.85" r="1.7"/>
<circle cx="379.9" cy="112.26" r="1.7"/>
<circle cx="383.95" cy="109.86" r="1.7"/>
<circle cx="388" cy="107.27" r="1.7"/>
<circle cx="392.05" cy="117.25" r="1.7"/>
<circle cx="396.1" cy="143.8" r="1.7"/>
<circle cx="400.15" cy="143.8" r="1.7"/>
<circle cx="404.2" cy="143.8" r="1.7"/>
<circle cx="408.25" cy="143.8" r="1.7"/>
</g>
<polyline points="242.2,133.82 246.25,133.42 250.3,124.24 254.35,115.25 258.4,115.25 262.45,105.47 266.5,96.89 270.55,87.51 274.6,95.89 278.65,102.88 282.7,140.2 286.75,141.8 290.8,142.8 294.85,141.2 298.9,133.82 302.95,123.44 307,105.47 311.05,96.29 315.1,91.5 319.15,89.31 323.2,96.89 327.25,95.89 331.3,98.49 335.35,110.86 339.4,140.8 343.45,142.4 347.5,143.8 351.55,141.8 355.6,129.82 359.65,122.84 363.7,125.43 367.75,121.84 371.8,108.47 375.85,104.48 379.9,112.26 383.95,111.46 388,114.85 392.05,117.25 396.1,140.8 400.15,140.8 404.2,140.8 408.25,140.8" fill="none" stroke="#000" stroke-width="0.82" stroke-linejoin="round"/>
<path d="M242.2 133.82V136.21M240 136.21H244.4M246.25 133.42V136.21M244.05 136.21H248.45M250.3 124.24V129.23M248.1 129.23H252.5M254.35 115.25V121.24M252.15 121.24H256.55M258.4 115.25V121.24M256.2 121.24H260.6M262.45 105.47V111.86M260.25 111.86H264.65M266.5 96.89V104.28M264.3 104.28H268.7M270.55 87.51V94.89M268.35 94.89H272.75M274.6 95.89V101.88M272.4 101.88H276.8M278.65 102.88V107.87M276.45 107.87H280.85M302.95 123.44V118.25M300.75 118.25H305.15M307 105.47V99.88M304.8 99.88H309.2M311.05 96.29V90.5M308.85 90.5H313.25M315.1 91.5V84.91M312.9 84.91H317.3M319.15 89.31V81.92M316.95 81.92H321.35M323.2 96.89V90.9M321 90.9H325.4M327.25 95.89V89.9M325.05 89.9H329.45M331.3 98.49V89.9M329.1 89.9H333.5M335.35 110.86V106.27M333.15 106.27H337.55M371.8 108.47V101.28M369.6 101.28H374M375.85 104.48V96.29M373.65 96.29H378.05M379.9 112.26V105.87M377.7 105.87H382.1M392.05 117.25V121.84M389.85 121.84H394.25" stroke="#000" stroke-width="0.8" fill="none"/>
<g fill="#000" stroke="#000" stroke-width="0.75">
<circle cx="242.2" cy="133.82" r="1.7"/>
<circle cx="246.25" cy="133.42" r="1.7"/>
<circle cx="250.3" cy="124.24" r="1.7"/>
<circle cx="254.35" cy="115.25" r="1.7"/>
<circle cx="258.4" cy="115.25" r="1.7"/>
<circle cx="262.45" cy="105.47" r="1.7"/>
<circle cx="266.5" cy="96.89" r="1.7"/>
<circle cx="270.55" cy="87.51" r="1.7"/>
<circle cx="274.6" cy="95.89" r="1.7"/>
<circle cx="278.65" cy="102.88" r="1.7"/>
<circle cx="282.7" cy="140.2" r="1.7"/>
<circle cx="286.75" cy="141.8" r="1.7"/>
<circle cx="290.8" cy="142.8" r="1.7"/>
<circle cx="294.85" cy="141.2" r="1.7"/>
<circle cx="298.9" cy="133.82" r="1.7"/>
<circle cx="302.95" cy="123.44" r="1.7"/>
<circle cx="307" cy="105.47" r="1.7"/>
<circle cx="311.05" cy="96.29" r="1.7"/>
<circle cx="315.1" cy="91.5" r="1.7"/>
<circle cx="319.15" cy="89.31" r="1.7"/>
<circle cx="323.2" cy="96.89" r="1.7"/>
<circle cx="327.25" cy="95.89" r="1.7"/>
<circle cx="331.3" cy="98.49" r="1.7"/>
<circle cx="335.35" cy="110.86" r="1.7"/>
<circle cx="339.4" cy="140.8" r="1.7"/>
<circle cx="343.45" cy="142.4" r="1.7"/>
<circle cx="347.5" cy="143.8" r="1.7"/>
<circle cx="351.55" cy="141.8" r="1.7"/>
<circle cx="355.6" cy="129.82" r="1.7"/>
<circle cx="359.65" cy="122.84" r="1.7"/>
<circle cx="363.7" cy="125.43" r="1.7"/>
<circle cx="367.75" cy="121.84" r="1.7"/>
<circle cx="371.8" cy="108.47" r="1.7"/>
<circle cx="375.85" cy="104.48" r="1.7"/>
<circle cx="379.9" cy="112.26" r="1.7"/>
<circle cx="383.95" cy="111.46" r="1.7"/>
<circle cx="388" cy="114.85" r="1.7"/>
<circle cx="392.05" cy="117.25" r="1.7"/>
<circle cx="396.1" cy="140.8" r="1.7"/>
<circle cx="400.15" cy="140.8" r="1.7"/>
<circle cx="404.2" cy="140.8" r="1.7"/>
<circle cx="408.25" cy="140.8" r="1.7"/>
</g>
<polyline points="242.2,249.83 246.25,234.26 250.3,209.51 254.35,200.93 258.4,214.3 262.45,224.28 266.5,204.32 270.55,196.34 274.6,200.93 278.65,219.49 282.7,263.8 286.75,265.2 290.8,265.8 294.85,266.2 298.9,255.82 302.95,247.84 307,244.84 311.05,232.27 315.1,219.89 319.15,227.88 323.2,235.46 327.25,233.86 331.3,235.46 335.35,240.25 339.4,265.8 343.45,266.4 347.5,267.2 351.55,266.8 355.6,257.82 359.65,251.43 363.7,241.45 367.75,234.86 371.8,239.85 375.85,245.24 379.9,237.86 383.95,234.86 388,235.86 392.05,244.84 396.1,266.4 400.15,267.2 404.2,267.2 408.25,265.8" fill="none" stroke="#000" stroke-width="0.82" stroke-linejoin="round"/>
<path d="M242.2 249.83V246.84M240 246.84H244.4M246.25 234.26V229.47M244.05 229.47H248.45M250.3 209.51V199.53M248.1 199.53H252.5M254.35 200.93V191.55M252.15 191.55H256.55M258.4 214.3V205.32M256.2 205.32H260.6M262.45 224.28V216.3M260.25 216.3H264.65M266.5 204.32V197.34M264.3 197.34H268.7M270.55 196.34V186.36M268.35 186.36H272.75M274.6 200.93V192.95M272.4 192.95H276.8M278.65 219.49V211.51M276.45 211.51H280.85M307 244.84V248.83M304.8 248.83H309.2M311.05 232.27V239.85M308.85 239.85H313.25M315.1 219.89V227.88M312.9 227.88H317.3M319.15 227.88V234.86M316.95 234.86H321.35M323.2 235.46V239.45M321 239.45H325.4M327.25 233.86V237.86M325.05 237.86H329.45M331.3 235.46V239.45M329.1 239.45H333.5M363.7 241.45V238.85M361.5 238.85H365.9M371.8 239.85V243.84M369.6 243.84H374M375.85 245.24V250.23M373.65 250.23H378.05M379.9 237.86V241.45M377.7 241.45H382.1" stroke="#000" stroke-width="0.8" fill="none"/>
<g fill="#fff" stroke="#000" stroke-width="0.75">
<circle cx="242.2" cy="249.83" r="1.7"/>
<circle cx="246.25" cy="234.26" r="1.7"/>
<circle cx="250.3" cy="209.51" r="1.7"/>
<circle cx="254.35" cy="200.93" r="1.7"/>
<circle cx="258.4" cy="214.3" r="1.7"/>
<circle cx="262.45" cy="224.28" r="1.7"/>
<circle cx="266.5" cy="204.32" r="1.7"/>
<circle cx="270.55" cy="196.34" r="1.7"/>
<circle cx="274.6" cy="200.93" r="1.7"/>
<circle cx="278.65" cy="219.49" r="1.7"/>
<circle cx="282.7" cy="263.8" r="1.7"/>
<circle cx="286.75" cy="265.2" r="1.7"/>
<circle cx="290.8" cy="265.8" r="1.7"/>
<circle cx="294.85" cy="266.2" r="1.7"/>
<circle cx="298.9" cy="255.82" r="1.7"/>
<circle cx="302.95" cy="247.84" r="1.7"/>
<circle cx="307" cy="244.84" r="1.7"/>
<circle cx="311.05" cy="232.27" r="1.7"/>
<circle cx="315.1" cy="219.89" r="1.7"/>
<circle cx="319.15" cy="227.88" r="1.7"/>
<circle cx="323.2" cy="235.46" r="1.7"/>
<circle cx="327.25" cy="233.86" r="1.7"/>
<circle cx="331.3" cy="235.46" r="1.7"/>
<circle cx="335.35" cy="240.25" r="1.7"/>
<circle cx="339.4" cy="265.8" r="1.7"/>
<circle cx="343.45" cy="266.4" r="1.7"/>
<circle cx="347.5" cy="267.2" r="1.7"/>
<circle cx="351.55" cy="266.8" r="1.7"/>
<circle cx="355.6" cy="257.82" r="1.7"/>
<circle cx="359.65" cy="251.43" r="1.7"/>
<circle cx="363.7" cy="241.45" r="1.7"/>
<circle cx="367.75" cy="234.86" r="1.7"/>
<circle cx="371.8" cy="239.85" r="1.7"/>
<circle cx="375.85" cy="245.24" r="1.7"/>
<circle cx="379.9" cy="237.86" r="1.7"/>
<circle cx="383.95" cy="234.86" r="1.7"/>
<circle cx="388" cy="235.86" r="1.7"/>
<circle cx="392.05" cy="244.84" r="1.7"/>
<circle cx="396.1" cy="266.4" r="1.7"/>
<circle cx="400.15" cy="267.2" r="1.7"/>
<circle cx="404.2" cy="267.2" r="1.7"/>
<circle cx="408.25" cy="265.8" r="1.7"/>
</g>
<polyline points="242.2,259.21 246.25,257.82 250.3,247.84 254.35,240.85 258.4,237.86 262.45,229.87 266.5,224.88 270.55,212.91 274.6,224.48 278.65,230.87 282.7,263.8 286.75,265.8 290.8,265.8 294.85,264.2 298.9,258.22 302.95,247.84 307,228.48 311.05,222.49 315.1,217.5 319.15,214.3 323.2,223.29 327.25,219.89 331.3,220.89 335.35,239.25 339.4,263.8 343.45,265.8 347.5,266.8 351.55,265.2 355.6,255.82 359.65,250.83 363.7,248.24 367.75,245.44 371.8,232.87 375.85,226.28 379.9,235.26 383.95,237.86 388,241.25 392.05,244.44 396.1,265.8 400.15,265.2 404.2,265.8 408.25,265.2" fill="none" stroke="#000" stroke-width="0.82" stroke-linejoin="round"/>
<path d="M242.2 259.21V261.41M240 261.41H244.4M246.25 257.82V260.21M244.05 260.21H248.45M250.3 247.84V252.23M248.1 252.23H252.5M254.35 240.85V246.84M252.15 246.84H256.55M258.4 237.86V244.44M256.2 244.44H260.6M262.45 229.87V235.86M260.25 235.86H264.65M266.5 224.88V232.87M264.3 232.87H268.7M270.55 212.91V220.89M268.35 220.89H272.75M274.6 224.48V231.47M272.4 231.47H276.8M278.65 230.87V235.86M276.45 235.86H280.85M302.95 247.84V242.85M300.75 242.85H305.15M307 228.48V221.49M304.8 221.49H309.2M311.05 222.49V214.9M308.85 214.9H313.25M315.1 217.5V209.51M312.9 209.51H317.3M319.15 214.3V205.52M316.95 205.52H321.35M323.2 223.29V215.9M321 215.9H325.4M327.25 219.89V212.31M325.05 212.31H329.45M331.3 220.89V211.51M329.1 211.51H333.5M335.35 239.25V234.86M333.15 234.86H337.55M371.8 232.87V225.28M369.6 225.28H374M375.85 226.28V217.5M373.65 217.5H378.05M379.9 235.26V227.48M377.7 227.48H382.1M392.05 244.44V240.85M389.85 240.85H394.25" stroke="#000" stroke-width="0.8" fill="none"/>
<g fill="#000" stroke="#000" stroke-width="0.75">
<circle cx="242.2" cy="259.21" r="1.7"/>
<circle cx="246.25" cy="257.82" r="1.7"/>
<circle cx="250.3" cy="247.84" r="1.7"/>
<circle cx="254.35" cy="240.85" r="1.7"/>
<circle cx="258.4" cy="237.86" r="1.7"/>
<circle cx="262.45" cy="229.87" r="1.7"/>
<circle cx="266.5" cy="224.88" r="1.7"/>
<circle cx="270.55" cy="212.91" r="1.7"/>
<circle cx="274.6" cy="224.48" r="1.7"/>
<circle cx="278.65" cy="230.87" r="1.7"/>
<circle cx="282.7" cy="263.8" r="1.7"/>
<circle cx="286.75" cy="265.8" r="1.7"/>
<circle cx="290.8" cy="265.8" r="1.7"/>
<circle cx="294.85" cy="264.2" r="1.7"/>
<circle cx="298.9" cy="258.22" r="1.7"/>
<circle cx="302.95" cy="247.84" r="1.7"/>
<circle cx="307" cy="228.48" r="1.7"/>
<circle cx="311.05" cy="222.49" r="1.7"/>
<circle cx="315.1" cy="217.5" r="1.7"/>
<circle cx="319.15" cy="214.3" r="1.7"/>
<circle cx="323.2" cy="223.29" r="1.7"/>
<circle cx="327.25" cy="219.89" r="1.7"/>
<circle cx="331.3" cy="220.89" r="1.7"/>
<circle cx="335.35" cy="239.25" r="1.7"/>
<circle cx="339.4" cy="263.8" r="1.7"/>
<circle cx="343.45" cy="265.8" r="1.7"/>
<circle cx="347.5" cy="266.8" r="1.7"/>
<circle cx="351.55" cy="265.2" r="1.7"/>
<circle cx="355.6" cy="255.82" r="1.7"/>
<circle cx="359.65" cy="250.83" r="1.7"/>
<circle cx="363.7" cy="248.24" r="1.7"/>
<circle cx="367.75" cy="245.44" r="1.7"/>
<circle cx="371.8" cy="232.87" r="1.7"/>
<circle cx="375.85" cy="226.28" r="1.7"/>
<circle cx="379.9" cy="235.26" r="1.7"/>
<circle cx="383.95" cy="237.86" r="1.7"/>
<circle cx="388" cy="241.25" r="1.7"/>
<circle cx="392.05" cy="244.44" r="1.7"/>
<circle cx="396.1" cy="265.8" r="1.7"/>
<circle cx="400.15" cy="265.2" r="1.7"/>
<circle cx="404.2" cy="265.8" r="1.7"/>
<circle cx="408.25" cy="265.2" r="1.7"/>
</g>
<polyline points="242.2,376.82 246.25,362.45 250.3,337.5 254.35,325.93 258.4,339.9 262.45,349.28 266.5,331.91 270.55,324.93 274.6,327.92 278.65,347.28 282.7,388.8 286.75,390.2 290.8,390.8 294.85,389.8 298.9,380.22 302.95,372.83 307,365.85 311.05,353.87 315.1,344.89 319.15,352.47 323.2,358.46 327.25,357.86 331.3,359.86 335.35,365.85 339.4,388.2 343.45,390.8 347.5,390.8 351.55,390.8 355.6,381.81 359.65,373.83 363.7,359.86 367.75,355.47 371.8,361.85 375.85,368.24 379.9,362.25 383.95,360.46 388,362.85 392.05,372.83 396.1,390.8 400.15,391.79 404.2,391.4 408.25,389.4" fill="none" stroke="#000" stroke-width="0.82" stroke-linejoin="round"/>
<path d="M242.2 376.82V374.83M240 374.83H244.4M246.25 362.45V357.46M244.05 357.46H248.45M250.3 337.5V327.32M248.1 327.32H252.5M254.35 325.93V316.35M252.15 316.35H256.55M258.4 339.9V330.32M256.2 330.32H260.6M262.45 349.28V342.49M260.25 342.49H264.65M266.5 331.91V324.93M264.3 324.93H268.7M270.55 324.93V314.55M268.35 314.55H272.75M274.6 327.92V320.34M272.4 320.34H276.8M278.65 347.28V339.9M276.45 339.9H280.85M307 365.85V370.84M304.8 370.84H309.2M311.05 353.87V361.85M308.85 361.85H313.25M315.1 344.89V354.47M312.9 354.47H317.3M319.15 352.47V359.86M316.95 359.86H321.35M323.2 358.46V362.85M321 362.85H325.4M327.25 357.86V362.85M325.05 362.85H329.45M331.3 359.86V364.85M329.1 364.85H333.5M363.7 359.86V368.84M361.5 368.84H365.9M371.8 361.85V366.84M369.6 366.84H374M375.85 368.24V372.83M373.65 372.83H378.05" stroke="#000" stroke-width="0.8" fill="none"/>
<g fill="#fff" stroke="#000" stroke-width="0.75">
<circle cx="242.2" cy="376.82" r="1.7"/>
<circle cx="246.25" cy="362.45" r="1.7"/>
<circle cx="250.3" cy="337.5" r="1.7"/>
<circle cx="254.35" cy="325.93" r="1.7"/>
<circle cx="258.4" cy="339.9" r="1.7"/>
<circle cx="262.45" cy="349.28" r="1.7"/>
<circle cx="266.5" cy="331.91" r="1.7"/>
<circle cx="270.55" cy="324.93" r="1.7"/>
<circle cx="274.6" cy="327.92" r="1.7"/>
<circle cx="278.65" cy="347.28" r="1.7"/>
<circle cx="282.7" cy="388.8" r="1.7"/>
<circle cx="286.75" cy="390.2" r="1.7"/>
<circle cx="290.8" cy="390.8" r="1.7"/>
<circle cx="294.85" cy="389.8" r="1.7"/>
<circle cx="298.9" cy="380.22" r="1.7"/>
<circle cx="302.95" cy="372.83" r="1.7"/>
<circle cx="307" cy="365.85" r="1.7"/>
<circle cx="311.05" cy="353.87" r="1.7"/>
<circle cx="315.1" cy="344.89" r="1.7"/>
<circle cx="319.15" cy="352.47" r="1.7"/>
<circle cx="323.2" cy="358.46" r="1.7"/>
<circle cx="327.25" cy="357.86" r="1.7"/>
<circle cx="331.3" cy="359.86" r="1.7"/>
<circle cx="335.35" cy="365.85" r="1.7"/>
<circle cx="339.4" cy="388.2" r="1.7"/>
<circle cx="343.45" cy="390.8" r="1.7"/>
<circle cx="347.5" cy="390.8" r="1.7"/>
<circle cx="351.55" cy="390.8" r="1.7"/>
<circle cx="355.6" cy="381.81" r="1.7"/>
<circle cx="359.65" cy="373.83" r="1.7"/>
<circle cx="363.7" cy="359.86" r="1.7"/>
<circle cx="367.75" cy="355.47" r="1.7"/>
<circle cx="371.8" cy="361.85" r="1.7"/>
<circle cx="375.85" cy="368.24" r="1.7"/>
<circle cx="379.9" cy="362.25" r="1.7"/>
<circle cx="383.95" cy="360.46" r="1.7"/>
<circle cx="388" cy="362.85" r="1.7"/>
<circle cx="392.05" cy="372.83" r="1.7"/>
<circle cx="396.1" cy="390.8" r="1.7"/>
<circle cx="400.15" cy="391.79" r="1.7"/>
<circle cx="404.2" cy="391.4" r="1.7"/>
<circle cx="408.25" cy="389.4" r="1.7"/>
</g>
<polyline points="242.2,385.81 246.25,383.41 250.3,375.43 254.35,369.84 258.4,366.45 262.45,357.26 266.5,354.47 270.55,342.89 274.6,351.87 278.65,359.86 282.7,388.4 286.75,390.8 290.8,390.8 294.85,389.8 298.9,380.22 302.95,372.43 307,355.27 311.05,347.88 315.1,344.49 319.15,338.3 323.2,347.48 327.25,339.3 331.3,342.89 335.35,366.25 339.4,388.2 343.45,388.2 347.5,390.8 351.55,389.4 355.6,379.42 359.65,374.83 363.7,373.23 367.75,371.83 371.8,355.27 375.85,353.87 379.9,362.25 383.95,365.45 388,368.84 392.05,369.84 396.1,390.8 400.15,389.4 404.2,391.79 408.25,389.4" fill="none" stroke="#000" stroke-width="0.82" stroke-linejoin="round"/>
<path d="M246.25 383.41V385.81M244.05 385.81H248.45M250.3 375.43V378.82M248.1 378.82H252.5M254.35 369.84V374.83M252.15 374.83H256.55M258.4 366.45V372.83M256.2 372.83H260.6M262.45 357.26V362.85M260.25 362.85H264.65M266.5 354.47V362.45M264.3 362.45H268.7M270.55 342.89V349.88M268.35 349.88H272.75M274.6 351.87V358.86M272.4 358.86H276.8M278.65 359.86V365.85M276.45 365.85H280.85M302.95 372.43V367.84M300.75 367.84H305.15M307 355.27V347.88M304.8 347.88H309.2M311.05 347.88V341.3M308.85 341.3H313.25M315.1 344.49V336.9M312.9 336.9H317.3M319.15 338.3V328.52M316.95 328.52H321.35M323.2 347.48V340.9M321 340.9H325.4M327.25 339.3V330.52M325.05 330.52H329.45M331.3 342.89V332.31M329.1 332.31H333.5M335.35 366.25V361.85M333.15 361.85H337.55M371.8 355.27V347.88M369.6 347.88H374M375.85 353.87V345.49M373.65 345.49H378.05M379.9 362.25V354.87M377.7 354.87H382.1M392.05 369.84V365.45M389.85 365.45H394.25" stroke="#000" stroke-width="0.8" fill="none"/>
<g fill="#000" stroke="#000" stroke-width="0.75">
<circle cx="242.2" cy="385.81" r="1.7"/>
<circle cx="246.25" cy="383.41" r="1.7"/>
<circle cx="250.3" cy="375.43" r="1.7"/>
<circle cx="254.35" cy="369.84" r="1.7"/>
<circle cx="258.4" cy="366.45" r="1.7"/>
<circle cx="262.45" cy="357.26" r="1.7"/>
<circle cx="266.5" cy="354.47" r="1.7"/>
<circle cx="270.55" cy="342.89" r="1.7"/>
<circle cx="274.6" cy="351.87" r="1.7"/>
<circle cx="278.65" cy="359.86" r="1.7"/>
<circle cx="282.7" cy="388.4" r="1.7"/>
<circle cx="286.75" cy="390.8" r="1.7"/>
<circle cx="290.8" cy="390.8" r="1.7"/>
<circle cx="294.85" cy="389.8" r="1.7"/>
<circle cx="298.9" cy="380.22" r="1.7"/>
<circle cx="302.95" cy="372.43" r="1.7"/>
<circle cx="307" cy="355.27" r="1.7"/>
<circle cx="311.05" cy="347.88" r="1.7"/>
<circle cx="315.1" cy="344.49" r="1.7"/>
<circle cx="319.15" cy="338.3" r="1.7"/>
<circle cx="323.2" cy="347.48" r="1.7"/>
<circle cx="327.25" cy="339.3" r="1.7"/>
<circle cx="331.3" cy="342.89" r="1.7"/>
<circle cx="335.35" cy="366.25" r="1.7"/>
<circle cx="339.4" cy="388.2" r="1.7"/>
<circle cx="343.45" cy="388.2" r="1.7"/>
<circle cx="347.5" cy="390.8" r="1.7"/>
<circle cx="351.55" cy="389.4" r="1.7"/>
<circle cx="355.6" cy="379.42" r="1.7"/>
<circle cx="359.65" cy="374.83" r="1.7"/>
<circle cx="363.7" cy="373.23" r="1.7"/>
<circle cx="367.75" cy="371.83" r="1.7"/>
<circle cx="371.8" cy="355.27" r="1.7"/>
<circle cx="375.85" cy="353.87" r="1.7"/>
<circle cx="379.9" cy="362.25" r="1.7"/>
<circle cx="383.95" cy="365.45" r="1.7"/>
<circle cx="388" cy="368.84" r="1.7"/>
<circle cx="392.05" cy="369.84" r="1.7"/>
<circle cx="396.1" cy="390.8" r="1.7"/>
<circle cx="400.15" cy="389.4" r="1.7"/>
<circle cx="404.2" cy="391.79" r="1.7"/>
<circle cx="408.25" cy="389.4" r="1.7"/>
</g>
<polyline points="242.2,498.83 246.25,485.85 250.3,459.31 254.35,446.93 258.4,461.5 262.45,473.48 266.5,458.51 270.55,450.92 274.6,454.92 278.65,472.88 282.7,508.81 286.75,510.21 290.8,510.8 294.85,510.21 298.9,499.83 302.95,493.44 307,489.85 311.05,477.87 315.1,468.89 319.15,474.88 323.2,482.86 327.25,476.87 331.3,482.86 335.35,489.45 339.4,509.81 343.45,508.81 347.5,510.8 351.55,511.4 355.6,504.82 359.65,497.83 363.7,479.87 367.75,477.87 371.8,484.86 375.85,487.85 379.9,486.25 383.95,484.86 388,485.26 392.05,495.44 396.1,511.4 400.15,511.4 404.2,510.8 408.25,510.8" fill="none" stroke="#000" stroke-width="0.82" stroke-linejoin="round"/>
<path d="M242.2 498.83V496.43M240 496.43H244.4M246.25 485.85V481.46M244.05 481.46H248.45M250.3 459.31V446.93M248.1 446.93H252.5M254.35 446.93V437.35M252.15 437.35H256.55M258.4 461.5V452.92M256.2 452.92H260.6M262.45 473.48V467.29M260.25 467.29H264.65M266.5 458.51V450.92M264.3 450.92H268.7M270.55 450.92V443.54M268.35 443.54H272.75M274.6 454.92V448.53M272.4 448.53H276.8M278.65 472.88V466.49M276.45 466.49H280.85M302.95 493.44V498.43M300.75 498.43H305.15M307 489.85V494.44M304.8 494.44H309.2M311.05 477.87V485.26M308.85 485.26H313.25M315.1 468.89V475.28M312.9 475.28H317.3M319.15 474.88V482.46M316.95 482.46H321.35M323.2 482.86V487.25M321 487.25H325.4M327.25 476.87V481.46M325.05 481.46H329.45M331.3 482.86V487.25M329.1 487.25H333.5M371.8 484.86V489.85M369.6 489.85H374M375.85 487.85V491.24M373.65 491.24H378.05M379.9 486.25V490.84M377.7 490.84H382.1" stroke="#000" stroke-width="0.8" fill="none"/>
<g fill="#fff" stroke="#000" stroke-width="0.75">
<circle cx="242.2" cy="498.83" r="1.7"/>
<circle cx="246.25" cy="485.85" r="1.7"/>
<circle cx="250.3" cy="459.31" r="1.7"/>
<circle cx="254.35" cy="446.93" r="1.7"/>
<circle cx="258.4" cy="461.5" r="1.7"/>
<circle cx="262.45" cy="473.48" r="1.7"/>
<circle cx="266.5" cy="458.51" r="1.7"/>
<circle cx="270.55" cy="450.92" r="1.7"/>
<circle cx="274.6" cy="454.92" r="1.7"/>
<circle cx="278.65" cy="472.88" r="1.7"/>
<circle cx="282.7" cy="508.81" r="1.7"/>
<circle cx="286.75" cy="510.21" r="1.7"/>
<circle cx="290.8" cy="510.8" r="1.7"/>
<circle cx="294.85" cy="510.21" r="1.7"/>
<circle cx="298.9" cy="499.83" r="1.7"/>
<circle cx="302.95" cy="493.44" r="1.7"/>
<circle cx="307" cy="489.85" r="1.7"/>
<circle cx="311.05" cy="477.87" r="1.7"/>
<circle cx="315.1" cy="468.89" r="1.7"/>
<circle cx="319.15" cy="474.88" r="1.7"/>
<circle cx="323.2" cy="482.86" r="1.7"/>
<circle cx="327.25" cy="476.87" r="1.7"/>
<circle cx="331.3" cy="482.86" r="1.7"/>
<circle cx="335.35" cy="489.45" r="1.7"/>
<circle cx="339.4" cy="509.81" r="1.7"/>
<circle cx="343.45" cy="508.81" r="1.7"/>
<circle cx="347.5" cy="510.8" r="1.7"/>
<circle cx="351.55" cy="511.4" r="1.7"/>
<circle cx="355.6" cy="504.82" r="1.7"/>
<circle cx="359.65" cy="497.83" r="1.7"/>
<circle cx="363.7" cy="479.87" r="1.7"/>
<circle cx="367.75" cy="477.87" r="1.7"/>
<circle cx="371.8" cy="484.86" r="1.7"/>
<circle cx="375.85" cy="487.85" r="1.7"/>
<circle cx="379.9" cy="486.25" r="1.7"/>
<circle cx="383.95" cy="484.86" r="1.7"/>
<circle cx="388" cy="485.26" r="1.7"/>
<circle cx="392.05" cy="495.44" r="1.7"/>
<circle cx="396.1" cy="511.4" r="1.7"/>
<circle cx="400.15" cy="511.4" r="1.7"/>
<circle cx="404.2" cy="510.8" r="1.7"/>
<circle cx="408.25" cy="510.8" r="1.7"/>
</g>
<polyline points="242.2,507.81 246.25,505.22 250.3,499.43 254.35,494.44 258.4,488.45 262.45,480.47 266.5,478.27 270.55,464.9 274.6,467.49 278.65,479.87 282.7,506.81 286.75,510.21 290.8,510.8 294.85,509.21 298.9,495.83 302.95,493.44 307,474.48 311.05,469.89 315.1,465.5 319.15,456.91 323.2,457.31 327.25,463.9 331.3,464.9 335.35,488.25 339.4,506.81 343.45,509.81 347.5,511.4 351.55,506.41 355.6,495.44 359.65,494.84 363.7,492.44 367.75,493.44 371.8,474.88 375.85,477.27 379.9,485.85 383.95,488.85 388,490.84 392.05,492.24 396.1,510.21 400.15,511.4 404.2,512.8 408.25,507.21" fill="none" stroke="#000" stroke-width="0.82" stroke-linejoin="round"/>
<path d="M246.25 505.22V507.21M244.05 507.21H248.45M250.3 499.43V503.22M248.1 503.22H252.5M254.35 494.44V499.83M252.15 499.83H256.55M258.4 488.45V494.44M256.2 494.44H260.6M262.45 480.47V485.26M260.25 485.26H264.65M266.5 478.27V485.85M264.3 485.85H268.7M270.55 464.9V472.48M268.35 472.48H272.75M274.6 467.49V474.88M272.4 474.88H276.8M298.9 495.83V491.44M296.7 491.44H301.1M302.95 493.44V488.85M300.75 488.85H305.15M307 474.48V466.89M304.8 466.89H309.2M311.05 469.89V462.9M308.85 462.9H313.25M315.1 465.5V458.51M312.9 458.51H317.3M319.15 456.91V446.93M316.95 446.93H321.35M323.2 457.31V444.34M321 444.34H325.4M327.25 463.9V455.91M325.05 455.91H329.45M331.3 464.9V454.52M329.1 454.52H333.5M335.35 488.25V482.86M333.15 482.86H337.55M355.6 495.44V491.84M353.4 491.84H357.8M359.65 494.84V489.25M357.45 489.25H361.85M363.7 492.44V487.85M361.5 487.85H365.9M371.8 474.88V466.89M369.6 466.89H374M375.85 477.27V469.49M373.65 469.49H378.05M379.9 485.85V479.87M377.7 479.87H382.1M392.05 492.24V488.45M389.85 488.45H394.25" stroke="#000" stroke-width="0.8" fill="none"/>
<g fill="#000" stroke="#000" stroke-width="0.75">
<circle cx="242.2" cy="507.81" r="1.7"/>
<circle cx="246.25" cy="505.22" r="1.7"/>
<circle cx="250.3" cy="499.43" r="1.7"/>
<circle cx="254.35" cy="494.44" r="1.7"/>
<circle cx="258.4" cy="488.45" r="1.7"/>
<circle cx="262.45" cy="480.47" r="1.7"/>
<circle cx="266.5" cy="478.27" r="1.7"/>
<circle cx="270.55" cy="464.9" r="1.7"/>
<circle cx="274.6" cy="467.49" r="1.7"/>
<circle cx="278.65" cy="479.87" r="1.7"/>
<circle cx="282.7" cy="506.81" r="1.7"/>
<circle cx="286.75" cy="510.21" r="1.7"/>
<circle cx="290.8" cy="510.8" r="1.7"/>
<circle cx="294.85" cy="509.21" r="1.7"/>
<circle cx="298.9" cy="495.83" r="1.7"/>
<circle cx="302.95" cy="493.44" r="1.7"/>
<circle cx="307" cy="474.48" r="1.7"/>
<circle cx="311.05" cy="469.89" r="1.7"/>
<circle cx="315.1" cy="465.5" r="1.7"/>
<circle cx="319.15" cy="456.91" r="1.7"/>
<circle cx="323.2" cy="457.31" r="1.7"/>
<circle cx="327.25" cy="463.9" r="1.7"/>
<circle cx="331.3" cy="464.9" r="1.7"/>
<circle cx="335.35" cy="488.25" r="1.7"/>
<circle cx="339.4" cy="506.81" r="1.7"/>
<circle cx="343.45" cy="509.81" r="1.7"/>
<circle cx="347.5" cy="511.4" r="1.7"/>
<circle cx="351.55" cy="506.41" r="1.7"/>
<circle cx="355.6" cy="495.44" r="1.7"/>
<circle cx="359.65" cy="494.84" r="1.7"/>
<circle cx="363.7" cy="492.44" r="1.7"/>
<circle cx="367.75" cy="493.44" r="1.7"/>
<circle cx="371.8" cy="474.88" r="1.7"/>
<circle cx="375.85" cy="477.27" r="1.7"/>
<circle cx="379.9" cy="485.85" r="1.7"/>
<circle cx="383.95" cy="488.85" r="1.7"/>
<circle cx="388" cy="490.84" r="1.7"/>
<circle cx="392.05" cy="492.24" r="1.7"/>
<circle cx="396.1" cy="510.21" r="1.7"/>
<circle cx="400.15" cy="511.4" r="1.7"/>
<circle cx="404.2" cy="512.8" r="1.7"/>
<circle cx="408.25" cy="507.21" r="1.7"/>
</g>
<g font-family="'Liberation Sans', Arial, sans-serif" fill="#000">
<g font-size="7.2" text-anchor="end" fill="#222">
<text x="35.9" y="153.2">0</text>
<text x="35.9" y="108.6">90</text>
<text x="35.9" y="64">180</text>
<text x="35.9" y="277.4">0</text>
<text x="35.9" y="232.8">90</text>
<text x="35.9" y="188.2">180</text>
<text x="35.9" y="400.8">0</text>
<text x="35.9" y="356.2">90</text>
<text x="35.9" y="311.6">180</text>
<text x="35.9" y="524.1">0</text>
<text x="35.9" y="479.5">90</text>
<text x="35.9" y="434.9">180</text>
<text x="232.9" y="153.2">0</text>
<text x="232.9" y="108.6">90</text>
<text x="232.9" y="64">180</text>
<text x="232.9" y="277.4">0</text>
<text x="232.9" y="232.8">90</text>
<text x="232.9" y="188.2">180</text>
<text x="232.9" y="400.8">0</text>
<text x="232.9" y="356.2">90</text>
<text x="232.9" y="311.6">180</text>
<text x="232.9" y="524.1">0</text>
<text x="232.9" y="479.5">90</text>
<text x="232.9" y="434.9">180</text>
</g>
<g font-size="7.3" text-anchor="middle" fill="#222">
<text x="41.5" y="535">23:25</text>
<text x="84.35" y="535">00:45</text>
<text x="127.2" y="535">02:01</text>
<text x="170.05" y="535">03:24</text>
<text x="212.9" y="535">04:43</text>
<text x="238.5" y="535">23:25</text>
<text x="281.35" y="535">00:45</text>
<text x="324.2" y="535">02:01</text>
<text x="367.05" y="535">03:24</text>
<text x="409.9" y="535">04:43</text>
</g>
<g font-weight="bold">
<text x="123.2" y="8.5" font-size="10.2" text-anchor="middle">Young (n=16)</text>
<text x="330.9" y="8.5" font-size="10.2" text-anchor="middle">Older (n=15)</text>
<text x="234" y="555" font-size="11.05" text-anchor="middle">Relative Clock Time (h)</text>
<text transform="translate(9.3 289.75) rotate(-90)" font-size="11" text-anchor="middle">EEG Delta Power (0.5-1.25 Hz; % of BL)</text>
<text x="431.5" y="77.4" font-size="10.5">Fz</text>
<text x="431.5" y="232.9" font-size="10.5">Cz</text>
<text x="431.5" y="369.4" font-size="10.5">Pz</text>
<text x="431.5" y="512.9" font-size="10.5">Oz</text>
<circle cx="194.4" cy="40.1" r="2.25" fill="#fff" stroke="#444" stroke-width="0.7"/>
<circle cx="194.4" cy="49.5" r="2.3" fill="#000" stroke="#000" stroke-width="0.6"/>
<text x="200.7" y="42.6" font-size="7">BL</text>
<text x="200.7" y="52.1" font-size="7">REC</text>
<circle cx="388.6" cy="40.8" r="2.25" fill="#fff" stroke="#444" stroke-width="0.7"/>
<circle cx="388.6" cy="50.2" r="2.3" fill="#000" stroke="#000" stroke-width="0.6"/>
<text x="394.9" y="43.3" font-size="7">BL</text>
<text x="394.9" y="52.8" font-size="7">REC</text>
<text transform="translate(64.6 52.3) rotate(0.4)" font-size="13" text-anchor="middle">*</text>
<text transform="translate(64.55 168.4) rotate(0.4)" font-size="13" text-anchor="middle">*</text>
<text transform="translate(124.5 195.7) rotate(0.4)" font-size="13" text-anchor="middle">*</text>
<text transform="translate(64.55 296.3) rotate(0.4)" font-size="13" text-anchor="middle">*</text>
<text transform="translate(124.5 324.1) rotate(0.4)" font-size="13" text-anchor="middle">*</text>
<text transform="translate(64.55 420.4) rotate(0.4)" font-size="13" text-anchor="middle">*</text>
<text transform="translate(263.55 58.3) rotate(0.4)" font-size="13" text-anchor="middle">*</text>
<text transform="translate(263.55 181.95) rotate(0.4)" font-size="13" text-anchor="middle">*</text>
<text transform="translate(263.55 309.6) rotate(0.4)" font-size="13" text-anchor="middle">*</text>
<text transform="translate(263.55 431.4) rotate(0.4)" font-size="13" text-anchor="middle">*</text>
</g>
</g>
</svg>
</body></html>
